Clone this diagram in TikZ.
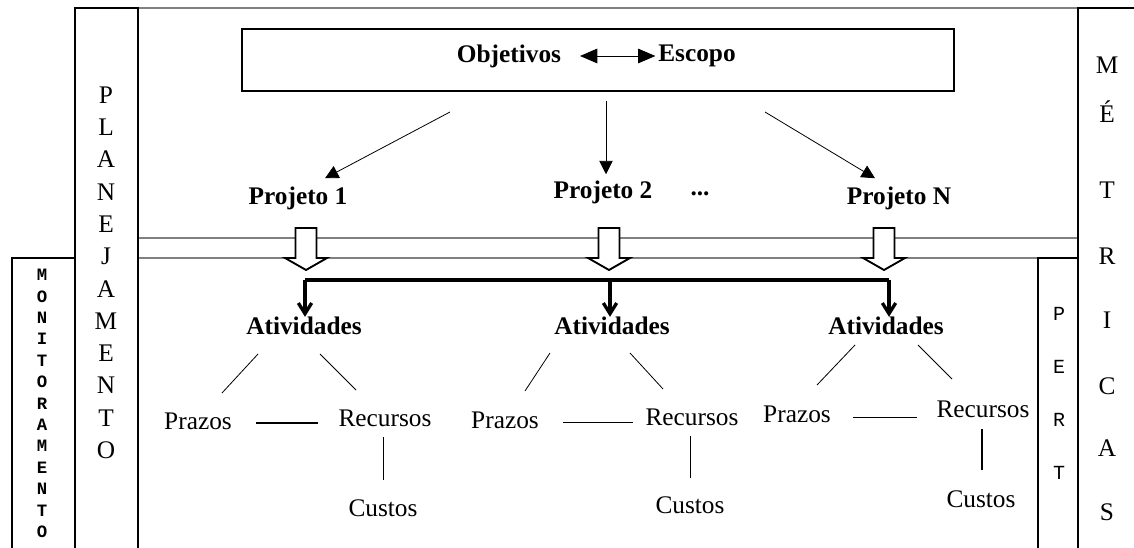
\documentclass[tikz,border=0pt]{standalone}
\usepackage{fontspec}
\setmainfont{Liberation Serif}
\setmonofont{Liberation Mono}
\usetikzlibrary{arrows.meta, positioning, calc}
\definecolor{bandgray}{RGB}{128,128,128}

% hollow block arrow pointing down, top centre at #1
\newcommand{\hollowdown}[1]{%
  \draw[line width=1.4pt, fill=white] ($(#1)+(-10.5,0)$) -- ++(0,30) -- ++(-10.5,0)
    -- ++(21,12) -- ++(21,-12) -- ++(-10.5,0) -- ++(0,-30) -- cycle;}

\begin{document}
\begin{tikzpicture}[x=0.75pt, y=-0.75pt,
  boldlbl/.style={inner sep=0pt, font=\fontsize{19}{21}\selectfont\bfseries},
  plainlbl/.style={inner sep=0pt, font=\fontsize{19}{21}\selectfont},
  vlet/.style={inner sep=0pt, font=\fontsize{19}{21}\selectfont},
  monolet/.style={inner sep=0pt, font=\fontsize{13}{15}\selectfont\ttfamily\bfseries},
  pertlet/.style={inner sep=0pt, font=\fontsize{15}{17}\selectfont\ttfamily},
  colframe/.style={line width=1.5pt},
  grayline/.style={draw=bandgray, line width=1.5pt},
  thinarrow/.style={line width=0.6pt, -{Triangle[length=10pt,width=10pt]}},
  thinline/.style={line width=0.6pt},
  thickline/.style={line width=1.4pt},
  bararrow/.style={line width=2.5pt, -{Straight Barb[length=8pt,width=10pt]}}
]
  \useasboundingbox (0,0) rectangle (1134,548);

  % Gray lines
  \draw[grayline] (138,8) -- (1078,8);
  \draw[grayline] (138,238) -- (1078,238);
  \draw[grayline] (138,258) -- (1038,258);

  % Side columns
  \draw[colframe] (75,548) -- (75,8) -- (138,8) -- (138,548);
  \draw[colframe] (12,548) -- (12,258) -- (75,258);
  \draw[colframe] (1078,548) -- (1078,8) -- (1134,8);
  \draw[colframe] (1038,548) -- (1038,258) -- (1078,258);

  \foreach \l [count=\i from 0] in {P,L,A,N,E,J,A,M,E,N,T,O}
    \node[vlet] (plan\i) at (106,95+32.3*\i) {\l};
  \foreach \l [count=\i from 0] in {M,O,N,I,T,O,R,A,M,E,N,T,O}
    \node[monolet] (mon\i) at (42,275+21.4*\i) {\l};
  \foreach \l/\y [count=\i] in {M/65,É/112,T/190,R/256,I/320,C/386,A/448,S/512}
    \node[vlet] (met\i) at (1107,\y) {\l};
  \foreach \l [count=\i from 0] in {P,E,R,T}
    \node[pertlet] (pert\i) at (1059,314+53*\i) {\l};

  % Top box
  \draw[colframe] (242,29) rectangle (954,91);
  \node[boldlbl] (obj) at (509,56) {Objetivos};
  \node[boldlbl] (esc) at (697,56) {Escopo};
  \draw[thinline, {Triangle[length=13pt,width=11pt]}-{Triangle[length=13pt,width=11pt]},
    shorten <=14pt, shorten >=2pt] (obj.east) -- (esc.west);

  % Projects
  \node[boldlbl] (p1) at (298,198) {Projeto 1};
  \node[boldlbl] (p2) at (603,192) {Projeto 2};
  \node[boldlbl] (dots) at (700,194) {...};
  \node[boldlbl] (pn) at (899,198) {Projeto N};

  \coordinate (s1) at (450,112);
  \coordinate (s2) at (606,101);
  \coordinate (s3) at (765,112);
  \draw[thinarrow] (s1) -- ($(p1.north)+(27,-8)$);
  \draw[thinarrow] (s2) -- ($(p2.north)+(3,-6)$);
  \draw[thinarrow] (s3) -- ($(pn.north)+(-24,-8)$);

  % Hollow arrows across the band
  \coordinate (h1) at (306,228);
  \coordinate (h2) at (609,228);
  \coordinate (h3) at (884,228);
  \hollowdown{h1}
  \hollowdown{h2}
  \hollowdown{h3}

  % Activities
  \node[boldlbl] (a1) at (304,326) {Atividades};
  \node[boldlbl] (a2) at (612,326) {Atividades};
  \node[boldlbl] (a3) at (886,326) {Atividades};

  \coordinate (jl) at (305,280);
  \coordinate (jm) at (610,280);
  \coordinate (jr) at (889,280);
  \draw[line width=2.5pt] (jl) -- (jr);
  \draw[bararrow] (jl) -- (jl |- a1.north);
  \draw[bararrow] (jm) -- (jm |- a2.north);
  \draw[bararrow] (jr) -- (jr |- a3.north);

  % Group 1
  \node[plainlbl] (pz1) at (198,421) {Prazos};
  \node[plainlbl] (rc1) at (385,418) {Recursos};
  \node[plainlbl] (cs1) at (383,508) {Custos};
  \draw[thinline] (258,354) -- (222,393);
  \draw[thinline] (320,354) -- (356,390);
  \draw[thickline] (pz1.east) ++(24,2) -- (318,423);
  \draw[thinline] (383,437) -- (383,480);

  % Group 2
  \node[plainlbl] (pz2) at (505,420) {Prazos};
  \node[plainlbl] (rc2) at (692,417) {Recursos};
  \node[plainlbl] (cs2) at (690,505) {Custos};
  \draw[thinline] (550,353) -- (525,391);
  \draw[thinline] (630,353) -- (663,389);
  \draw[thinline] (563,422) -- (633,422);
  \draw[thinline] (690,436) -- (690,478);

  % Group 3
  \node[plainlbl] (pz3) at (797,414) {Prazos};
  \node[plainlbl] (rc3) at (983,409) {Recursos};
  \node[plainlbl] (cs3) at (981,499) {Custos};
  \draw[thinline] (855,345) -- (817,385);
  \draw[thinline] (918,345) -- (952,379);
  \draw[thinline] (853,417) -- (917,417);
  \draw[thickline] (982,429) -- (982,470);
\end{tikzpicture}
\end{document}
